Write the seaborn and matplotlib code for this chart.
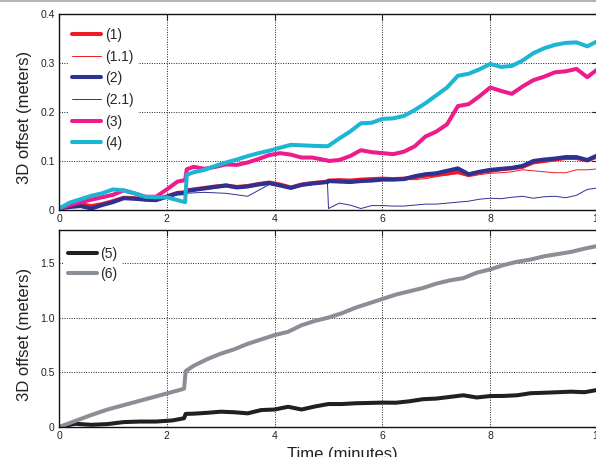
import matplotlib
matplotlib.use("Agg")
import matplotlib.pyplot as plt
import seaborn as sns
from matplotlib.lines import Line2D

sns.set_theme(style="white")
plt.rcParams["font.family"] = ["Liberation Sans", "DejaVu Sans"]

# ---- data (time in minutes, offset in meters) ----
t_top = [0, 0.2, 0.4, 0.6, 0.8, 1.0, 1.2, 1.4, 1.6, 1.8, 2.0, 2.2, 2.34, 2.37,
         2.5, 2.7, 2.9, 3.1, 3.3, 3.5, 3.7, 3.9, 4.1, 4.3, 4.5, 4.7, 4.98, 5.0,
         5.2, 5.4, 5.6, 5.8, 6.0, 6.2, 6.4, 6.6, 6.8, 7.0, 7.2, 7.4, 7.6, 7.8,
         8.0, 8.2, 8.4, 8.6, 8.8, 9.0, 9.2, 9.4, 9.6, 9.8, 10.0]

s1 = [0.003, 0.008, 0.012, 0.008, 0.012, 0.018, 0.025, 0.024, 0.022, 0.021, 0.028,
      0.035, 0.036, 0.040, 0.042, 0.045, 0.048, 0.050, 0.047, 0.049, 0.053, 0.056,
      0.052, 0.046, 0.052, 0.055, 0.058, 0.060, 0.061, 0.060, 0.062, 0.063, 0.064,
      0.063, 0.064, 0.067, 0.070, 0.072, 0.074, 0.078, 0.072, 0.077, 0.080, 0.083,
      0.085, 0.088, 0.097, 0.100, 0.103, 0.106, 0.106, 0.101, 0.110]

s1_1 = [0.003, 0.008, 0.012, 0.008, 0.012, 0.018, 0.025, 0.024, 0.022, 0.021, 0.028,
        0.035, 0.036, 0.040, 0.042, 0.045, 0.048, 0.050, 0.047, 0.049, 0.053, 0.056,
        0.052, 0.046, 0.052, 0.055, 0.058, 0.060, 0.061, 0.060, 0.062, 0.063, 0.064,
        0.063, 0.062, 0.062, 0.064, 0.068, 0.072, 0.074, 0.068, 0.072, 0.075, 0.076,
        0.078, 0.082, 0.080, 0.078, 0.076, 0.076, 0.082, 0.082, 0.084]

s2 = [0.003, 0.006, 0.008, 0.003, 0.010, 0.016, 0.024, 0.023, 0.021, 0.020, 0.027,
      0.034, 0.035, 0.039, 0.041, 0.044, 0.047, 0.050, 0.046, 0.048, 0.052, 0.055,
      0.050, 0.045, 0.051, 0.054, 0.057, 0.059, 0.058, 0.057, 0.059, 0.060, 0.062,
      0.062, 0.063, 0.069, 0.073, 0.075, 0.080, 0.085, 0.073, 0.078, 0.082, 0.084,
      0.086, 0.090, 0.100, 0.103, 0.105, 0.108, 0.108, 0.102, 0.112]

s2_1 = [0.003, 0.005, 0.006, 0.002, 0.008, 0.015, 0.022, 0.021, 0.019, 0.019, 0.025,
        0.031, 0.031, 0.034, 0.035, 0.036, 0.035, 0.034, 0.031, 0.028, 0.040, 0.052,
        0.049, 0.045, 0.050, 0.053, 0.056, 0.003, 0.014, 0.010, 0.003, 0.009, 0.009,
        0.008, 0.008, 0.010, 0.012, 0.012, 0.014, 0.016, 0.018, 0.022, 0.024, 0.023,
        0.026, 0.028, 0.024, 0.027, 0.028, 0.025, 0.030, 0.042, 0.045]

s3 = [0.003, 0.010, 0.016, 0.021, 0.026, 0.031, 0.040, 0.034, 0.027, 0.027, 0.042,
      0.058, 0.061, 0.083, 0.088, 0.084, 0.088, 0.093, 0.092, 0.097, 0.104, 0.112,
      0.116, 0.113, 0.107, 0.107, 0.101, 0.100, 0.102, 0.110, 0.122, 0.118, 0.116,
      0.114, 0.119, 0.130, 0.150, 0.160, 0.175, 0.212, 0.216, 0.232, 0.250, 0.243,
      0.237, 0.252, 0.265, 0.272, 0.281, 0.283, 0.288, 0.271, 0.288]

s4 = [0.003, 0.015, 0.022, 0.029, 0.034, 0.042, 0.040, 0.034, 0.027, 0.026, 0.026,
      0.020, 0.016, 0.072, 0.077, 0.082, 0.090, 0.097, 0.103, 0.110, 0.116, 0.121,
      0.127, 0.133, 0.132, 0.131, 0.130, 0.131, 0.146, 0.160, 0.177, 0.178, 0.186,
      0.187, 0.192, 0.204, 0.218, 0.234, 0.250, 0.274, 0.278, 0.287, 0.298, 0.292,
      0.294, 0.305, 0.320, 0.330, 0.337, 0.341, 0.342, 0.334, 0.345]

t_bot = [0, 0.3, 0.6, 0.9, 1.2, 1.5, 1.8, 2.1, 2.32, 2.35, 2.5, 2.75, 3.0, 3.25,
         3.5, 3.75, 4.0, 4.25, 4.5, 4.75, 5.0, 5.25, 5.5, 5.75, 6.0, 6.25, 6.5,
         6.75, 7.0, 7.25, 7.5, 7.75, 8.0, 8.25, 8.5, 8.75, 9.0, 9.25, 9.5, 9.75, 10.0]

s5 = [0.0, 0.03, 0.02, 0.027, 0.045, 0.05, 0.05, 0.06, 0.08, 0.12, 0.122, 0.13,
      0.14, 0.135, 0.125, 0.155, 0.16, 0.185, 0.16, 0.188, 0.21, 0.21, 0.217, 0.22,
      0.223, 0.222, 0.235, 0.254, 0.26, 0.275, 0.29, 0.27, 0.283, 0.284, 0.29,
      0.309, 0.313, 0.318, 0.323, 0.318, 0.34]

s6 = [0.0, 0.055, 0.11, 0.16, 0.2, 0.24, 0.28, 0.32, 0.35, 0.51, 0.56, 0.62, 0.67,
      0.71, 0.76, 0.80, 0.84, 0.87, 0.93, 0.97, 1.0, 1.04, 1.09, 1.13, 1.17, 1.21,
      1.24, 1.27, 1.31, 1.34, 1.36, 1.41, 1.44, 1.48, 1.51, 1.53, 1.56, 1.58, 1.60,
      1.63, 1.655]

top_series = [("(1)", s1, "#ED1C24", 2.9), ("(1.1)", s1_1, "#ED1C24", 0.7),
              ("(2)", s2, "#2E3192", 2.9), ("(2.1)", s2_1, "#2E3192", 0.7),
              ("(3)", s3, "#EC1C8C", 2.9), ("(4)", s4, "#1CB5D3", 2.9)]
bot_series = [("(5)", s5, "#231F20", 2.9), ("(6)", s6, "#898F94", 2.9)]

fig = plt.figure(figsize=(5.96, 4.57), dpi=100)
ax1 = fig.add_axes([0.099, 0.5405, 0.9044, 0.4289])
ax2 = fig.add_axes([0.099, 0.0656, 0.9044, 0.4311])

for name, vals, col, lw in top_series:
    sns.lineplot(x=t_top, y=vals, ax=ax1, color=col, lw=lw, label=name,
                 estimator=None, sort=False)
for name, vals, col, lw in bot_series:
    sns.lineplot(x=t_bot, y=vals, ax=ax2, color=col, lw=lw, label=name,
                 estimator=None, sort=False)

for ax in (ax1, ax2):
    ax.set_xlim(0, 10)
    ax.set_xticks([0, 2, 4, 6, 8, 10])
    ax.grid(True, ls=(0, (1, 1.5)), color="#222222", lw=0.7)
    ax.tick_params(direction="in", top=True, right=True, length=4, width=0.8,
                   labelsize=7.5, colors="#222222", pad=3)
    for sp in ax.spines.values():
        sp.set_color("#111111")
        sp.set_linewidth(1.0)
    ax.set_ylabel("3D offset (meters)", fontsize=12, color="#222222")

ax1.set_ylim(0, 0.4)
ax1.set_yticks([0, 0.1, 0.2, 0.3, 0.4])
ax1.set_yticklabels(["0", "0.1", "0.2", "0.3", "0.4"])
ax1.set_xlabel("")
ax1.yaxis.set_label_coords(-0.05, 0.474)

ax2.set_ylim(0, 1.8)
ax2.set_yticks([0, 0.5, 1.0, 1.5])
ax2.set_yticklabels(["0", "0.5", "1.0", "1.5"])
ax2.set_xlabel("Time (minutes)", fontsize=12, color="#222222")
ax2.yaxis.set_label_coords(-0.05, 0.472)
ax2.xaxis.set_label_coords(0.525, -0.1)

leg_kw = dict(loc="upper left", frameon=True, framealpha=1, edgecolor="none",
              facecolor="white", fancybox=False, fontsize=10, handlelength=2.1,
              handletextpad=0.25, borderpad=0.3)
ax1.legend(bbox_to_anchor=(0.004, 0.985), labelspacing=0.55, **leg_kw)
ax2.legend(bbox_to_anchor=(-0.004, 0.97), labelspacing=0.45, **leg_kw)

fig.add_artist(Line2D([0, 1], [0.998, 0.998], transform=fig.transFigure,
                      color="#b5b5b5", lw=1.5))

fig.savefig("out.png", dpi=100)
